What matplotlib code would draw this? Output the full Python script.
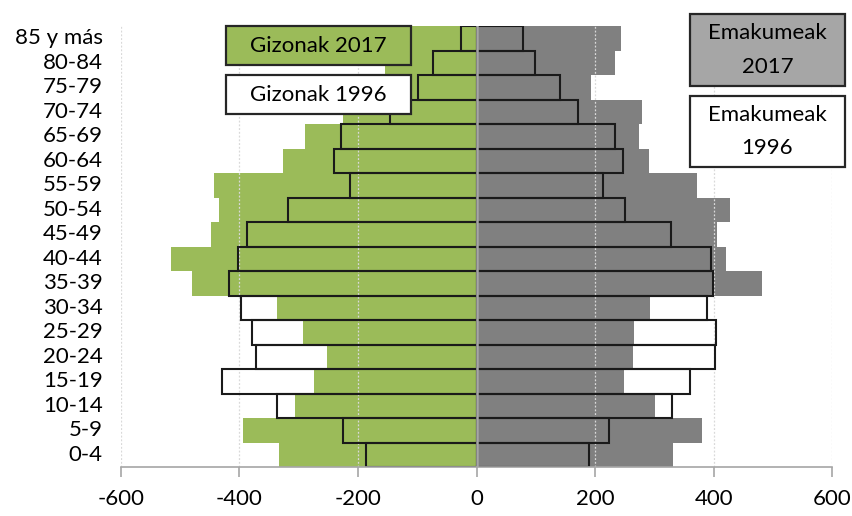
import matplotlib
matplotlib.use("Agg")
import matplotlib.pyplot as plt
from matplotlib.patches import Rectangle
import numpy as np

categories = ['0-4', '5-9', '10-14', '15-19', '20-24', '25-29', '30-34', '35-39', '40-44',
              '45-49', '50-54', '55-59', '60-64', '65-69', '70-74', '75-79', '80-84', '85 y más']
men_2017 = [333, 393, 306, 274, 252, 292, 336, 480, 515, 448, 434, 443, 326, 289, 226, 184, 155, 118]
men_1996 = [187, 226, 337, 429, 372, 379, 397, 417, 402, 387, 318, 214, 240, 228, 146, 99, 74, 27]
women_2017 = [331, 380, 300, 248, 264, 265, 293, 481, 421, 406, 427, 371, 291, 274, 279, 193, 234, 244]
women_1996 = [190, 223, 330, 359, 402, 404, 389, 399, 396, 327, 250, 213, 247, 233, 171, 141, 99, 79]
xticks = [-600, -400, -200, 0, 200, 400, 600]

GREEN = '#9BBB59'
GRAY = '#808080'
FONT = 'Lato'
FS = 16
plt.rcParams['font.family'] = [FONT, 'DejaVu Sans']

W, H = 853, 516
fig = plt.figure(figsize=(W / 100, H / 100), dpi=100)
left, right, top, bottom = 120.7, 832.5, 26, 467
ax = fig.add_axes([left / W, (H - bottom) / H, (right - left) / W, (bottom - top) / H])

y = np.arange(len(categories))
ax.barh(y, -np.array(men_2017), height=1.0, color=GREEN, zorder=2)
ax.barh(y, women_2017, height=1.0, color=GRAY, zorder=2)
for xv in xticks:
    if xv != 0:
        ax.axvline(xv, color='#D9D9D9', lw=0.9, ls=(0, (1.5, 1.5)), zorder=2.5)
ax.barh(y, -np.array(men_1996), height=1.0, facecolor='none', edgecolor='#1a1a1a', lw=1.5, zorder=3)
ax.barh(y, women_1996, height=1.0, facecolor='none', edgecolor='#1a1a1a', lw=1.5, zorder=3)
ax.axvline(0, color='#A6A6A6', lw=1.8, zorder=4)

ax.set_xlim(-600, 600)
ax.set_ylim(-0.5, len(categories) - 0.5)
ax.set_xticks(xticks)
ax.set_xticklabels([str(v) for v in xticks])
ax.set_yticks(y)
ax.set_yticklabels(categories)
for s in ['left', 'right', 'top']:
    ax.spines[s].set_visible(False)
ax.spines['bottom'].set_color('#A6A6A6')
ax.spines['bottom'].set_linewidth(1.2)
ax.spines['bottom'].set_zorder(5)
ax.tick_params(axis='x', direction='out', length=7.5, width=1.2, color='#A6A6A6',
               labelsize=FS, pad=8, labelcolor='#000000')
ax.tick_params(axis='y', length=0, labelsize=FS, pad=13, labelcolor='#000000')
for lbl in ax.get_yticklabels():
    lbl.set_verticalalignment('center')

# overlay for label boxes (pixel coordinates)
ov = fig.add_axes([0, 0, 1, 1], facecolor='none')
ov.set_xlim(0, W)
ov.set_ylim(H, 0)
ov.axis('off')

def box(x0, y0, x1, y1, fc, lines, ys):
    ov.add_patch(Rectangle((x0, y0), x1 - x0, y1 - y0, facecolor=fc, edgecolor='#262626', lw=1.6))
    for t, yy in zip(lines, ys):
        ov.text((x0 + x1) / 2, yy, t, ha='center', va='center', fontsize=FS, color='#000000')

box(226, 26, 411, 65, GREEN, ['Gizonak 2017'], [46])
box(226, 75, 411, 114, 'white', ['Gizonak 1996'], [95])
box(690, 14, 845, 86, '#A6A6A6', ['Emakumeak', '2017'], [33, 67])
box(690, 96, 845, 167, 'white', ['Emakumeak', '1996'], [115, 148])

fig.savefig('out.png', dpi=100)
